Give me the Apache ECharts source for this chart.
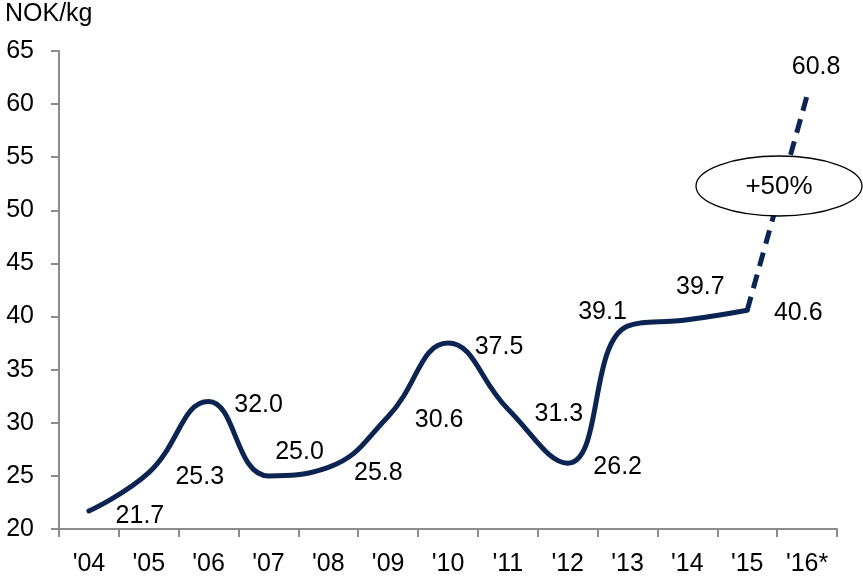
<!DOCTYPE html>
<html><head><meta charset="utf-8">
<script src="https://cdn.jsdelivr.net/npm/echarts@6/dist/echarts.min.js"></script>
<style>html,body{margin:0;padding:0;background:#fff}#c{width:863px;height:577px}</style>
</head><body><div id="c"></div>
<script>
const years = ["'04","'05","'06","'07","'08","'09","'10","'11","'12","'13","'14","'15","'16*"];
const prices = [21.7,25.3,32.0,25.0,25.8,30.6,37.5,31.3,26.2,39.1,39.7,40.6,60.8];
const forecastStart = 11;
const unitLabel = 'NOK/kg';
const changeLabel = '+50%';

const labelOffsets = [[51,5],[51,4],[50,4],[31,-24],[50,6],[51,4],[51,4],[51,5],[50,4],[-25,-14],[13,-33],[51,3],[9,-29]];
const navy = '#0b2452';
const font = 'Liberation Sans, Arial, sans-serif';

const solid = prices.map((v,i)=> i<=forecastStart ? v : null);
const dashed = prices.map((v,i)=> i>=forecastStart ? v : null);

const chart = echarts.init(document.getElementById('c'));
chart.setOption({
  animation:false,
  grid:{left:59,right:26,top:51,bottom:47,containLabel:false},
  xAxis:{type:'category',data:years,boundaryGap:true,
    axisLine:{lineStyle:{color:'#8c8c8c',width:2}},
    axisTick:{show:true,length:8,inside:false,lineStyle:{color:'#8c8c8c',width:2}},
    axisLabel:{color:'#000',fontSize:25,fontFamily:font,margin:23},
    splitLine:{show:false}},
  yAxis:{type:'value',min:20,max:65,interval:5,
    axisLine:{show:true,lineStyle:{color:'#8c8c8c',width:2}},
    axisTick:{show:true,length:8,lineStyle:{color:'#8c8c8c',width:2}},
    axisLabel:{color:'#000',fontSize:25,fontFamily:font,margin:25},
    splitLine:{show:false}},
  series:[
    {type:'line',data:solid,smooth:0.45,symbol:'none',connectNulls:false,
      lineStyle:{color:navy,width:5,cap:'round'},z:2},
    {type:'line',data:dashed,smooth:0.45,symbol:'none',
      lineStyle:{color:navy,width:5,type:[14,9]},z:2},
    {type:'scatter',data:prices.map((v,i)=>({value:v,label:{offset:labelOffsets[i]}})),
      symbolSize:1,itemStyle:{color:'rgba(0,0,0,0)'},silent:true,z:5,
      label:{show:true,position:'inside',color:'#000',opacity:1,textBorderWidth:0,textBorderColor:'transparent',
        fontSize:25,fontFamily:font,formatter:p=>p.value.toFixed(1)}}
  ],
  graphic:[
    {type:'text',left:5,top:2,style:{text:unitLabel,fontSize:25,fontFamily:font,fill:'#000'}},
    {type:'ellipse',shape:{cx:779,cy:186,rx:83,ry:30},style:{fill:'#fff',stroke:'#000',lineWidth:1.3},z:10},
    {type:'text',x:779,y:187,style:{text:changeLabel,fontSize:26,fontFamily:font,fill:'#000',align:'center',verticalAlign:'middle'},z:11}
  ]
});
</script></body></html>
